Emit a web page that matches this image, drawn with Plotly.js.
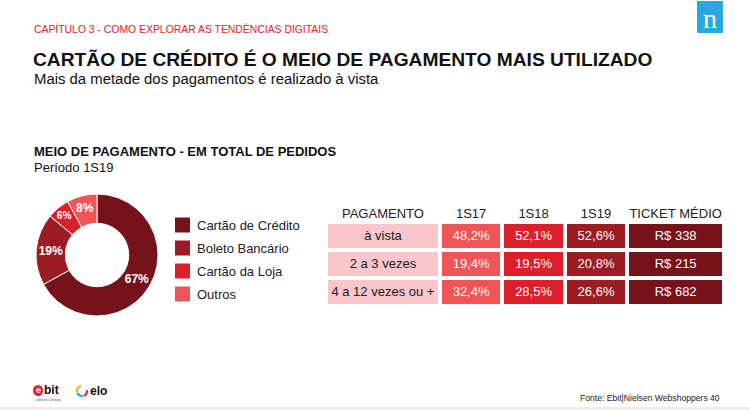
<!DOCTYPE html>
<html><head><meta charset="utf-8">
<script src="https://cdn.plot.ly/plotly-3.0.1.min.js"></script>
<style>html,body{margin:0;padding:0;background:#fff}#chart{width:750px;height:410px}</style>
</head><body><div id="chart"></div>
<script>
// ---- data ----
const pieLabels = ['Cartão de Crédito', 'Boleto Bancário', 'Cartão da Loja', 'Outros'];
const pieValues = [67, 19, 6, 8];
const pieColors = ['#76121a', '#9b1c22', '#dc1f2a', '#ef5457'];

const tableHeader = ['PAGAMENTO', '1S17', '1S18', '1S19', 'TICKET MÉDIO'];
const pagamento = ['à vista', '2 a 3 vezes', '4 a 12 vezes ou +'];
const s17 = [48.2, 19.4, 32.4];
const s18 = [52.1, 19.5, 28.5];
const s19 = [52.6, 20.8, 26.6];
const ticket = [338, 215, 682];
const colColors = ['#f8c6cb', '#ef5457', '#dc1f2a', '#9b1c22', '#76121a'];

// ---- helpers ----
const W = 750, H = 410;
const px = x => x / W;
const py = y => 1 - y / H;
const pct = v => v.toFixed(1).replace('.', ',') + '%';
const nb = s => s.replace(/ /g, '\u00a0');
const narrow = '"Liberation Sans Narrow", "Arial Narrow", "Liberation Sans", Arial, sans-serif';
const sans = '"Liberation Sans", Arial, sans-serif';

const pie = {
  type: 'pie', labels: pieLabels, values: pieValues, sort: false,
  direction: 'clockwise', rotation: 0, hole: 0.52,
  marker: {colors: pieColors, line: {color: '#ffffff', width: 1}},
  texttemplate: '%{value}%', textposition: 'inside', insidetextorientation: 'horizontal',
  textfont: {family: sans, size: 12, color: '#ffffff', weight: 'bold'},
  domain: {x: [px(36), px(158)], y: [py(316), py(194)]},
  showlegend: false, hoverinfo: 'label+percent'
};

const nRows = pagamento.length;
const table = {
  type: 'table',
  domain: {x: [px(326), px(724)], y: [py(320), py(200)]},
  columnwidth: [113, 62, 62, 62, 96],
  header: {
    values: tableHeader.map(nb), height: 22, align: 'center',
    fill: {color: '#ffffff'}, line: {color: '#ffffff', width: 1},
    font: {family: sans, size: 13, color: '#222222'}
  },
  cells: {
    values: [pagamento.map(nb), s17.map(pct), s18.map(pct), s19.map(pct), ticket.map(v => nb('R$ ' + v))],
    height: 28, align: 'center',
    fill: {color: colColors.map(c => Array(nRows).fill(c))},
    line: {color: '#ffffff', width: 4},
    font: {family: sans, size: 13, color: ['#222222', '#ffffff', '#ffffff', '#ffffff', '#ffffff']}
  }
};

const shapes = [];
const annotations = [];
function txt(text, x, y, size, color, family, opts) {
  annotations.push(Object.assign({text: text, xref: 'paper', yref: 'paper', x: px(x), y: py(y),
    xanchor: 'left', yanchor: 'middle', showarrow: false,
    font: {size: size, color: color, family: family}}, opts || {}));
}
// header texts
txt('CAPÍTULO 3 - COMO EXPLORAR AS TENDÊNCIAS DIGITAIS', 32, 29, 10.4, '#e8202c', narrow);
txt('<b>CARTÃO DE CRÉDITO É O MEIO DE PAGAMENTO MAIS UTILIZADO</b>', 31, 59, 19.2, '#111111', narrow);
txt('Mais da metade dos pagamentos é realizado à vista', 32, 79, 14.9, '#111111', narrow);
txt('<b>MEIO DE PAGAMENTO - EM TOTAL DE PEDIDOS</b>', 32, 151, 13, '#111111', sans);
txt('Período 1S19', 32, 168, 13, '#111111', sans);
txt('Fonte: Ebit|Nielsen Webshoppers 40', 722, 398, 8.6, '#222222', narrow, {xanchor: 'right'});

// Nielsen logo
shapes.push({type: 'rect', xref: 'paper', yref: 'paper', x0: px(697), x1: px(723), y0: py(33), y1: py(1),
  fillcolor: '#2aa7df', line: {width: 0}});
txt('n', 710, 18, 28, '#ffffff', '"Liberation Serif", "DejaVu Serif", serif', {xanchor: 'center'});

// manual legend
pieLabels.forEach((lab, i) => {
  const yc = 225 + i * 23;
  shapes.push({type: 'rect', xref: 'paper', yref: 'paper', x0: px(175), x1: px(190), y0: py(yc + 7.5), y1: py(yc - 7.5),
    fillcolor: pieColors[i], line: {width: 0}});
  txt(lab, 195, yc, 13, '#222222', sans);
});

// footer logos (ebit / elo)
shapes.push({type: 'circle', xref: 'paper', yref: 'paper', x0: px(33), x1: px(43), y0: py(396), y1: py(385),
  fillcolor: '#e8202c', line: {width: 0}});
txt('<b>e</b>', 38, 390, 9, '#ffffff', sans, {xanchor: 'center'});
txt('<b>bit</b>', 42, 390, 12, '#111111', sans);
txt('a Nielsen Company', 33, 400, 3, '#555555', sans);
function arc(cx, cy, r, a0, a1, color) {
  const pts = [];
  for (let k = 0; k <= 12; k++) {
    const a = (a0 + (a1 - a0) * k / 12) * Math.PI / 180;
    pts.push((k ? 'L' : 'M') + px(cx + r * Math.cos(a)).toFixed(5) + ',' + py(cy - r * Math.sin(a)).toFixed(5));
  }
  shapes.push({type: 'path', xref: 'paper', yref: 'paper', path: pts.join(' '), line: {color: color, width: 2.2}});
}
arc(82, 391, 5, 100, 190, '#f5b50c');
arc(82, 391, 5, 200, 280, '#2aa7df');
arc(82, 391, 5, 290, 370, '#e8202c');
txt('<b>elo</b>', 88, 391, 12, '#111111', sans);
// bottom thin band
shapes.push({type: 'rect', xref: 'paper', yref: 'paper', x0: 0, x1: 1, y0: 0, y1: py(407),
  fillcolor: '#f6eaee', line: {width: 0}});

const layout = {
  width: W, height: H, margin: {l: 0, r: 0, t: 0, b: 0},
  paper_bgcolor: '#ffffff', plot_bgcolor: '#ffffff',
  showlegend: false, shapes: shapes, annotations: annotations,
  font: {family: sans}
};
Plotly.newPlot('chart', [pie, table], layout, {displayModeBar: false, staticPlot: true});
</script></body></html>
